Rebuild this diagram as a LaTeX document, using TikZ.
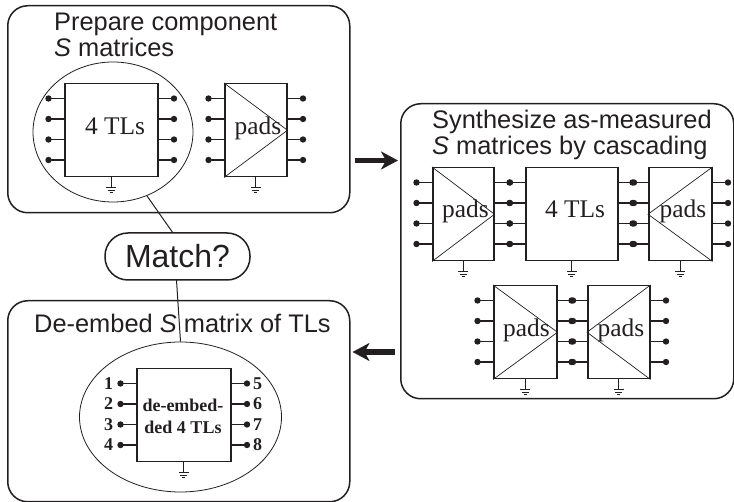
\documentclass[tikz,border=0pt]{standalone}
\usepackage{fontspec}
\setmainfont{Liberation Sans}
\newfontfamily\timesfont{Liberation Serif}
\usetikzlibrary{arrows.meta,calc,positioning,shapes.geometric}
\definecolor{inkblack}{HTML}{231F20}
\tikzset{
	stagebox/.style={draw,line width=1.5pt,rounded corners=20pt,anchor=north west,inner sep=0pt},
	stagetitle/.style={anchor=north west,align=left,inner sep=0pt,font=\fontsize{25.4}{25.6}\selectfont},
	groupring/.style={draw,ellipse,line width=.8pt,inner sep=0pt},
	portblock/.style={draw,line width=1.5pt,anchor=north west,inner sep=0pt},
	blocklabel/.style={anchor=base,inner sep=0pt,font=\timesfont\fontsize{25.4}{26}\selectfont},
	boldlabel/.style={inner sep=0pt,font=\timesfont\bfseries\fontsize{18}{22}\selectfont},
	portdot/.style={circle,fill,inner sep=0pt,minimum size=6.4pt},
	bigarrow/.style={-{Stealth[length=17pt,width=18pt,inset=5pt]},line width=5.5pt},
}
% name, left x, top y, width
\newcommand{\fourport}[4]{
	\node[portblock,minimum width=#4pt,minimum height=93pt] (#1) at (#2,#3) {};
	\foreach \k/\dy in {1/15.5,2/36,3/56.5,4/77}{
		\draw[line width=1.2pt] (#1.north west) ++(0,\dy) -- ++(-15.5,0) node[portdot] (#1l\k) {};
		\draw[line width=1.2pt] (#1.north east) ++(0,\dy) -- ++(15.5,0) node[portdot] (#1r\k) {};
	}
	\draw[line width=1.2pt] (#1.south) -- ++(0,10) coordinate (#1g);
	\draw[line width=1pt] ($(#1g)+(-5,0)$) -- ++(10,0) ($(#1g)+(-3.3,2.6)$) -- ++(6.6,0) ($(#1g)+(-1.5,5)$) -- ++(3,0);
}
\begin{document}
\begin{tikzpicture}[x=1pt,y=-1pt,inkblack,every node/.append style={text=inkblack}]
	\useasboundingbox (0,0) rectangle (734,502);
	% stages
	\node[stagebox,minimum width=342pt,minimum height=207pt] (prepare) at (7,5) {};
	\node[stagebox,minimum width=333pt,minimum height=295pt] (synth) at (400,103) {};
	\node[stagebox,minimum width=342pt,minimum height=201pt] (deembed) at (7,300) {};
	\node[stagetitle] (preparetitle) at (54,13) {Prepare component\\\textit{S} matrices};
	\node[stagetitle] (synthtitle) at (432,110) {Synthesize as-measured\\\textit{S} matrices by cascading};
	\node[stagetitle] (deembedtitle) at (34,314) {De-embed \textit{S} matrix of TLs};
	% rings
	\node[groupring,minimum width=160pt,minimum height=140pt] (ringtls) at (113,132) {};
	\node[groupring,minimum width=202pt,minimum height=150pt] (ringdeembed) at (180.5,417) {};
	% blocks
	\fourport{tlsA}{64}{83}{93}
	\fourport{padsA}{224}{83}{62}
	\fourport{padsB}{432}{167}{61}
	\fourport{tlsB}{525}{167}{92}
	\fourport{padsC}{648}{167}{63}
	\fourport{padsD}{493}{285}{63}
	\fourport{padsE}{587}{285}{62}
	\fourport{tlsC}{136}{368}{94}
	\foreach \blk in {padsA,padsB,padsD}
	\draw[line width=.7pt] (\blk.north west)--(\blk.east)--(\blk.south west);
	\foreach \blk in {padsC,padsE}
	\draw[line width=.7pt] (\blk.north east)--(\blk.west)--(\blk.south east);
	\foreach \lblname/\lblx/\lbly/\lbltext in {la/115/135/4 TLs,lb/258/135/pads,lc/465.5/218/pads,ld/575/218/4 TLs,le/683/218/pads,lf/526.5/337/pads,lg/621/337/pads}
	\node[blocklabel] (\lblname) at (\lblx,\lbly) {\lbltext};
	\node[boldlabel,align=center,anchor=center] (tlsClabel) at (183,416) {de-embed-\\ded 4 TLs};
	\foreach \k in {1,2,3,4}
	\node[boldlabel,left=3.5pt of tlsCl\k] (numl\k) {\k};
	\foreach \k/\num in {1/5,2/6,3/7,4/8}
	\node[boldlabel,right=2pt of tlsCr\k] (numr\k) {\num};
	% match
	\node[draw,line width=1.5pt,rounded corners=23pt,minimum width=145pt,minimum height=47pt,inner sep=0pt,font=\fontsize{32}{32}\selectfont] (match) at (177.5,256.5) {Match?};
	\coordinate (matchtop) at (173,233);
	\coordinate (matchbot) at (176.5,280);
	\draw[line width=1pt] (ringtls.-62) -- (matchtop);
	\draw[line width=1pt] (matchbot) -- (ringdeembed.90);
	% arrows
	\coordinate (arrowA) at (375,160.5);
	\coordinate (arrowB) at (375,352);
	\draw[bigarrow,shorten <=4pt,shorten >=2pt] (prepare.east |- arrowA) -- (synth.west |- arrowA);
	\draw[bigarrow,shorten <=5pt,shorten >=2pt] (synth.west |- arrowB) -- (deembed.east |- arrowB);
\end{tikzpicture}
\end{document}
